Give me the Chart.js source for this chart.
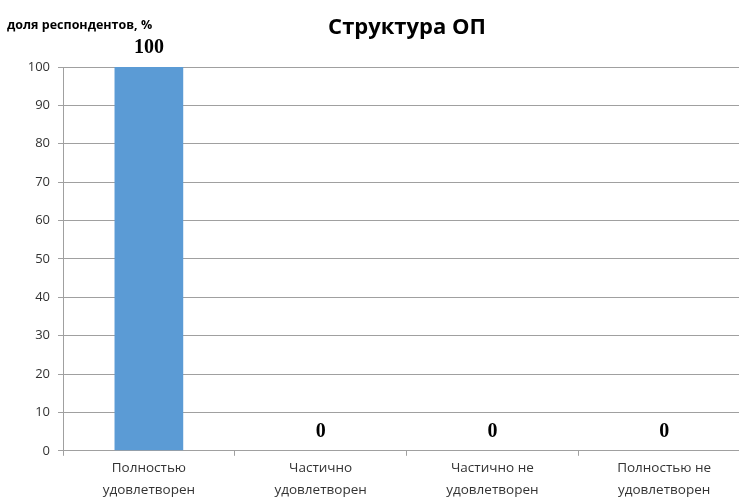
<!DOCTYPE html>
<html lang="ru">
<head>
    <meta charset="UTF-8">
    <title>Структура ОП</title>
    <script src="https://cdn.jsdelivr.net/npm/chart.js"></script>
    <style>
        html, body {
            margin: 0;
            padding: 0;
            background: #ffffff;
            overflow: hidden;
        }
        .chart-wrapper {
            width: 750px;
            height: 499px;
            position: relative;
        }
    </style>
</head>
<body>
    <div class="chart-wrapper">
        <canvas id="main-chart"></canvas>
    </div>

    <script>
        // Данные диаграммы
        const categories = [
            ['Полностью', 'удовлетворен'],
            ['Частично', 'удовлетворен'],
            ['Частично не', 'удовлетворен'],
            ['Полностью не', 'удовлетворен']
        ];
        const shares = [100, 0, 0, 0];
        const yTicks = [0, 10, 20, 30, 40, 50, 60, 70, 80, 90, 100];

        const chartTitle = 'Структура ОП';
        const yAxisTitle = 'доля респондентов, %';

        // Подписи значений и заголовки
        const labelsPlugin = {
            id: 'labelsPlugin',
            afterDraw(chart) {
                const ctx = chart.ctx;
                const meta = chart.getDatasetMeta(0);
                ctx.save();
                ctx.fillStyle = '#000000';
                ctx.textAlign = 'center';
                ctx.textBaseline = 'middle';
                ctx.font = 'bold 20px "Liberation Serif", serif';
                meta.data.forEach(function(bar, i) {
                    ctx.fillText(String(shares[i]), bar.x, bar.y - 19);
                });

                ctx.font = 'bold 22px "Open Sans", sans-serif';
                ctx.fillText(chartTitle, 407, 28);

                ctx.textAlign = 'left';
                ctx.font = 'bold 12.5px "Open Sans", sans-serif';
                ctx.fillText(yAxisTitle, 7, 25);
                ctx.restore();
            }
        };

        const mainChart = new Chart(document.getElementById('main-chart'), {
            type: 'bar',
            data: {
                labels: categories,
                datasets: [{
                    data: shares,
                    backgroundColor: '#5b9bd5',
                    borderWidth: 0,
                    categoryPercentage: 1,
                    barPercentage: 0.4
                }]
            },
            options: {
                responsive: true,
                maintainAspectRatio: false,
                animation: false,
                layout: {
                    padding: { top: 67, right: 0, bottom: -4, left: 0 }
                },
                plugins: {
                    legend: { display: false },
                    title: { display: false },
                    tooltip: { enabled: false }
                },
                scales: {
                    x: {
                        grid: {
                            offset: true,
                            drawOnChartArea: false,
                            color: '#a0a0a0',
                            tickLength: 5
                        },
                        border: { color: '#a0a0a0' },
                        ticks: {
                            color: '#333333',
                            maxRotation: 0,
                            padding: 2,
                            font: { family: '"Open Sans", sans-serif', size: 13.5, lineHeight: 1.6 }
                        }
                    },
                    y: {
                        min: 0,
                        max: 100,
                        afterBuildTicks(scale) {
                            scale.ticks = yTicks.map(v => ({ value: v }));
                        },
                        afterFit(scale) {
                            scale.width = 63;
                        },
                        grid: {
                            color: '#a0a0a0',
                            tickLength: 5
                        },
                        border: { color: '#a0a0a0' },
                        ticks: {
                            color: '#333333',
                            padding: 8,
                            font: { family: '"Open Sans", sans-serif', size: 13 }
                        }
                    }
                }
            },
            plugins: [labelsPlugin]
        });
    </script>
</body>
</html>
